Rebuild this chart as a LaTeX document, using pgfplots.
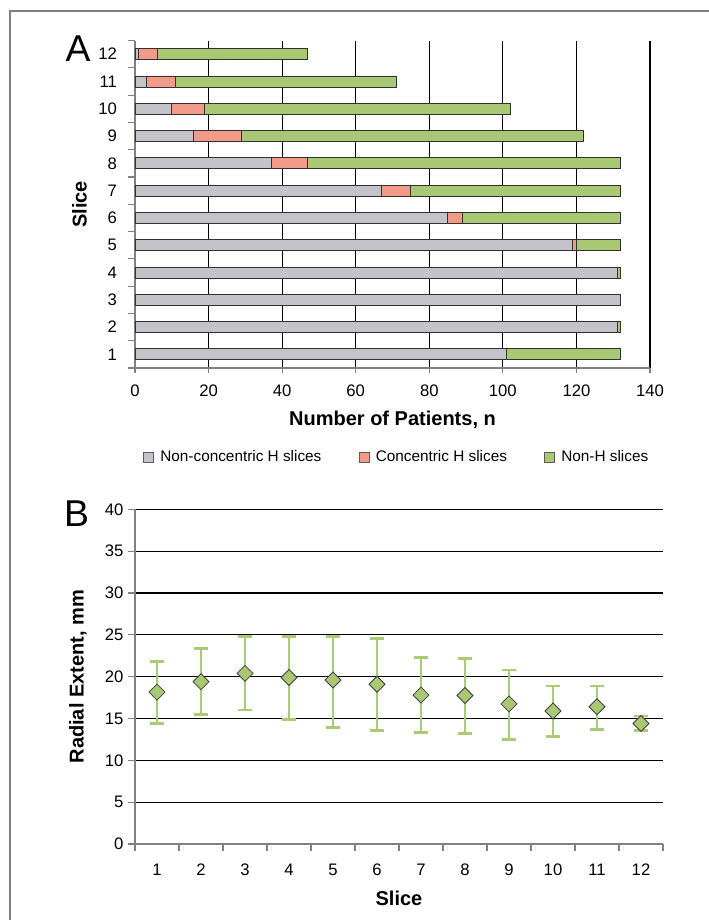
\documentclass[border=0pt]{standalone}
\usepackage{fontspec}
\setmainfont{Liberation Sans}
\usepackage{pgfplots}
\pgfplotsset{compat=1.18}
\usepackage{pgfplotstable}

\definecolor{barGray}{RGB}{196,195,201}
\definecolor{barRed}{RGB}{243,153,136}
\definecolor{barGreen}{RGB}{169,200,115}
\definecolor{axisGray}{RGB}{128,128,128}
\definecolor{errGreen}{RGB}{170,202,115}
\definecolor{barEdge}{RGB}{50,50,50}

\pgfplotstableread{
y gray red green
1 101 0 31
2 131 0 1
3 132 0 0
4 131 0 1
5 119 1 12
6 85 4 43
7 67 8 57
8 37 10 85
9 16 13 93
10 10 9 83
11 3 8 60
12 1 5 41
}\dataA

\pgfplotstableread{
x y ep em
1 18.15 3.65 3.75
2 19.4 4.0 3.9
3 20.4 4.4 4.4
4 19.9 4.9 5.0
5 19.6 5.2 5.7
6 19.1 5.45 5.55
7 17.8 4.5 4.5
8 17.75 4.45 4.55
9 16.75 4.05 4.25
10 15.9 3.0 3.05
11 16.4 2.5 2.7
12 14.4 0.9 0.85
}\dataB

\pgfplotsset{
  common/.style={
    scale only axis,
    axis x line*=bottom, axis y line*=left,
    axis line style={axisGray, line width=1.2pt},
    tick style={axisGray, line width=0.9pt},
    tick align=outside,
    major grid style={black, line width=0.8pt},
    ticklabel style={font=\fontsize{12.5}{15}\selectfont},
    /pgf/number format/assume math mode=true,
    label style={font=\fontsize{15}{18}\bfseries},
  },
}

\begin{document}
\begin{tikzpicture}
\path[use as bounding box] (0,0) rectangle (531.75pt,690pt);
\draw[axisGray, line width=0.8pt] (7.5pt,0) -- (7.5pt,681.75pt) -- (531.75pt,681.75pt);

\node[font=\fontsize{28}{30}\selectfont] at (58.5pt,653.6pt) {A};
\node[font=\fontsize{28}{30}\selectfont] at (57.4pt,304.9pt) {B};

\begin{axis}[common,
  at={(101.25pt,414pt)}, anchor=south west,
  width=386.25pt, height=245.6pt,
  xbar stacked, bar width=8.25pt,
  xmin=0, xmax=140, ymin=0.5, ymax=12.5,
  xtick={0,20,...,140}, ytick={1,...,12},
  minor ytick={0.5,1.5,...,12.5},
  major tick length=4pt, minor tick length=5.25pt,
  every major y tick/.style={draw=none},
  xmajorgrids=true,
  yticklabel style={xshift=-6pt},
  xticklabel style={yshift=-5pt},
  xlabel={Number of Patients, n},
  ylabel={Slice},
  xlabel style={at={(axis description cs:0.5,-0.157)}, anchor=center},
  ylabel style={at={(axis description cs:-0.108,0.5)}, anchor=center},
  legend columns=3,
  legend style={at={(axis description cs:0.509,-0.272)}, anchor=center,
    draw=none, font=\fontsize{11.5}{14}\selectfont,
    /tikz/every even column/.append style={column sep=26pt}},
  legend image code/.code={\draw[#1, draw=barEdge!80, line width=0.5pt] (0pt,-3.75pt) rectangle (7.5pt,3.75pt); \path[draw=none, fill=none] (0pt,0pt) -- (10.5pt,0pt);},
]
\addplot[fill=barGray, draw=barEdge, line width=0.6pt] table[x=gray, y=y]{\dataA};
\addplot[fill=barRed, draw=barEdge, line width=0.6pt] table[x=red, y=y]{\dataA};
\addplot[fill=barGreen, draw=barEdge, line width=0.6pt] table[x=green, y=y]{\dataA};
\legend{Non-concentric H slices, Concentric H slices, Non-H slices}
\end{axis}

\begin{axis}[common,
  at={(101.25pt,57pt)}, anchor=south west,
  width=396pt, height=251pt,
  xmin=0.5, xmax=12.5, ymin=0, ymax=40,
  xtick={1,...,12}, minor xtick={0.5,1.5,...,12.5},
  ytick={0,5,...,40},
  major tick length=5.25pt, minor tick length=5.25pt,
  every major x tick/.style={draw=none},
  ymajorgrids=true,
  xticklabel style={yshift=-6pt},
  xlabel={Slice},
  ylabel={Radial Extent, mm},
  xlabel style={at={(axis description cs:0.5,-0.161)}, anchor=center},
  ylabel style={at={(axis description cs:-0.108,0.5)}, anchor=center},
]
\addplot[only marks, mark=square*, mark size=4.24pt,
  mark options={rotate=45, fill=barGreen, draw=black!75, line width=0.6pt},
  error bars/.cd, y dir=both, y explicit,
  error bar style={errGreen, line width=1.7pt},
  error mark options={rotate=90, errGreen, line width=2pt, mark size=5.5pt}]
  table[x=x, y=y, y error plus=ep, y error minus=em]{\dataB};
\end{axis}
\end{tikzpicture}
\end{document}
